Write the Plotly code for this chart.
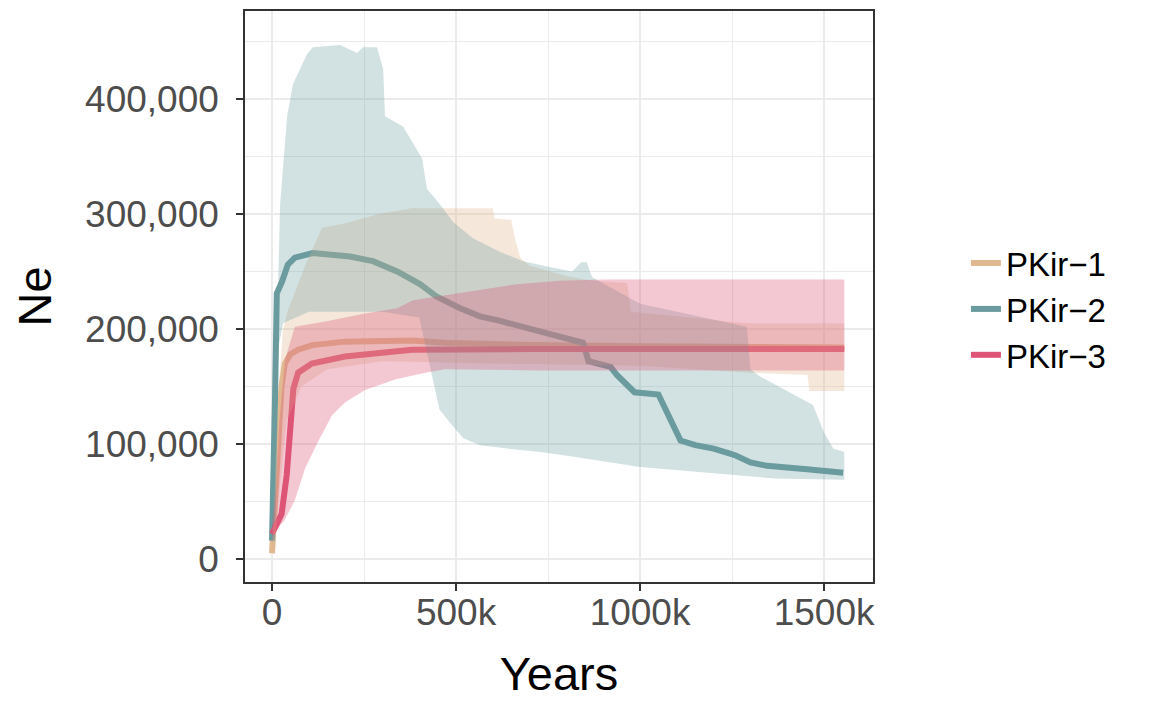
import plotly.graph_objects as go

# ---------------- data ----------------
series_names = ["PKir\u22121", "PKir\u22122", "PKir\u22123"]
series_colors = ["#E1B991", "#6A9B9E", "#DE5476"]
ribbon_colors = ["rgba(225,185,145,0.33)", "rgba(106,155,158,0.30)", "rgba(222,84,118,0.32)"]

# PKir-1 (median line)
years1 = [0, 5e3, 10e3, 18e3, 26e3, 35e3, 50e3, 71e3, 109e3, 198e3, 288e3, 380e3, 470e3, 700e3, 1000e3, 1555e3]
ne1 = [5e3, 30e3, 60e3, 110e3, 150e3, 170e3, 178e3, 182e3, 186e3, 189e3, 190e3, 190e3, 188e3, 186e3, 185e3, 184e3]
# PKir-1 ribbon
up1_years = [0, 5e3, 10e3, 18e3, 30e3, 43e3, 90e3, 136e3, 200e3, 290e3, 380e3, 600e3, 605e3, 650e3, 660e3, 675e3, 700e3, 800e3, 870e3, 965e3, 975e3, 1290e3, 1555e3]
up1 = [8e3, 40e3, 90e3, 150e3, 200e3, 216e3, 255e3, 288e3, 292e3, 300e3, 305e3, 305e3, 296e3, 295e3, 279e3, 262e3, 255e3, 246e3, 242e3, 240e3, 215e3, 205e3, 205e3]
lo1_years = [0, 10e3, 20e3, 40e3, 80e3, 150e3, 300e3, 600e3, 1000e3, 1300e3, 1455e3, 1460e3, 1555e3]
lo1 = [3e3, 20e3, 60e3, 120e3, 150e3, 165e3, 172e3, 170e3, 168e3, 162e3, 160e3, 146e3, 146e3]

# PKir-2 (median line)
years2 = [0, 4e3, 8e3, 13e3, 27e3, 43e3, 62e3, 111e3, 212e3, 274e3, 340e3, 402e3, 448e3, 511e3, 565e3, 620e3, 666e3, 728e3, 845e3, 860e3, 920e3, 937e3, 985e3, 1050e3, 1075e3, 1110e3, 1150e3, 1200e3, 1240e3, 1260e3, 1300e3, 1345e3, 1454e3, 1552e3]
ne2 = [16e3, 60e3, 137e3, 231e3, 241e3, 256e3, 262e3, 266e3, 263e3, 259e3, 250e3, 239e3, 228e3, 218e3, 211e3, 207e3, 203e3, 197e3, 188e3, 172e3, 167e3, 160e3, 145e3, 143e3, 125e3, 103e3, 99e3, 96e3, 92e3, 90e3, 84e3, 81e3, 78e3, 75e3]
# PKir-2 ribbon
up2_years = [0, 8e3, 15e3, 22e3, 41e3, 57e3, 95e3, 111e3, 185e3, 231e3, 247e3, 285e3, 302e3, 307e3, 356e3, 383e3, 408e3, 421e3, 457e3, 492e3, 546e3, 620e3, 682e3, 755e3, 815e3, 840e3, 855e3, 870e3, 1000e3, 1290e3, 1300e3, 1325e3, 1470e3, 1500e3, 1525e3, 1555e3]
up2 = [20e3, 120e3, 230e3, 308e3, 385e3, 413e3, 439e3, 445e3, 447e3, 440e3, 445e3, 445e3, 426e3, 385e3, 376e3, 362e3, 348e3, 322e3, 308e3, 293e3, 279e3, 267e3, 259e3, 254e3, 250e3, 258e3, 258e3, 245e3, 222e3, 202e3, 165e3, 159e3, 134e3, 110e3, 96e3, 93e3]
lo2_years = [0, 5e3, 10e3, 15e3, 30e3, 100e3, 300e3, 400e3, 420e3, 455e3, 490e3, 520e3, 565e3, 640e3, 730e3, 820e3, 1000e3, 1185e3, 1365e3, 1555e3]
lo2 = [10e3, 40e3, 120e3, 180e3, 205e3, 215e3, 215e3, 210e3, 180e3, 130e3, 116e3, 105e3, 99e3, 96e3, 93e3, 89e3, 80e3, 75e3, 70e3, 69e3]

# PKir-3 (median line)
years3 = [0, 26e3, 40e3, 49e3, 58e3, 71e3, 108e3, 198e3, 289e3, 380e3, 700e3, 1000e3, 1555e3]
ne3 = [22e3, 39e3, 73e3, 108e3, 148e3, 162e3, 170e3, 176e3, 179e3, 182e3, 182.5e3, 182.5e3, 182.5e3]
# PKir-3 ribbon
up3_years = [0, 10e3, 20e3, 35e3, 62e3, 152e3, 245e3, 340e3, 383e3, 546e3, 666e3, 780e3, 900e3, 1555e3]
up3 = [30e3, 60e3, 120e3, 173e3, 202e3, 207e3, 213e3, 218e3, 225e3, 233e3, 239e3, 242e3, 243e3, 243e3]
lo3_years = [0, 10e3, 33e3, 62e3, 90e3, 125e3, 163e3, 198e3, 253e3, 334e3, 416e3, 470e3, 728e3, 1000e3, 1555e3]
lo3 = [15e3, 25e3, 33e3, 51e3, 79e3, 102e3, 125e3, 136e3, 147e3, 156e3, 162e3, 165e3, 164e3, 164e3, 164e3]

x_tickvals = [0, 500000, 1000000, 1500000]
x_ticktext = ["0", "500k", "1000k", "1500k"]
x_minor = [250000, 750000, 1250000]
y_tickvals = [0, 100000, 200000, 300000, 400000]
y_ticktext = ["0", "100,000", "200,000", "300,000", "400,000"]
y_minor = [50000, 150000, 250000, 350000, 450000]

lines = [(years1, ne1), (years2, ne2), (years3, ne3)]
ribbons = [(up1_years, up1, lo1_years, lo1), (up2_years, up2, lo2_years, lo2), (up3_years, up3, lo3_years, lo3)]

FONT = "Liberation Sans, Arial, Helvetica, sans-serif"

fig = go.Figure()
for (xs, ys), name, col in zip(lines, series_names, series_colors):
    fig.add_trace(go.Scatter(x=xs, y=ys, mode="lines", name=name,
                             line=dict(color=col, width=6)))
for (ux, uy, lx, ly), col in zip(ribbons, ribbon_colors):
    fig.add_trace(go.Scatter(x=list(ux) + list(lx)[::-1], y=list(uy) + list(ly)[::-1],
                             mode="lines", fill="toself", fillcolor=col,
                             line=dict(width=0), showlegend=False, hoverinfo="skip"))

axis_common = dict(
    showgrid=True, gridcolor="#EBEBEB", gridwidth=2,
    ticks="outside", ticklen=7, tickwidth=2, tickcolor="#333333",
    showline=True, mirror=True, linecolor="#333333", linewidth=1.5,
    zeroline=False, automargin=False,
    tickfont=dict(family=FONT, size=37, color="#4D4D4D"),
)

fig.update_layout(
    width=1141, height=697,
    margin=dict(l=237, r=276, t=3, b=123, autoexpand=False),
    paper_bgcolor="white", plot_bgcolor="white",
    font=dict(family=FONT, color="black"),
    xaxis=dict(range=[-73400, 1633000], tickvals=x_tickvals, ticktext=x_ticktext,
               minor=dict(tickvals=x_minor, showgrid=True, gridcolor="#EBEBEB", gridwidth=1, ticks=""),
               title=dict(text="Years", font=dict(family=FONT, size=47, color="black"), standoff=25),
               ticklabelstandoff=-10,
               **axis_common),
    yaxis=dict(range=[-20000, 476500], tickvals=y_tickvals, ticktext=y_ticktext,
               minor=dict(tickvals=y_minor, showgrid=True, gridcolor="#EBEBEB", gridwidth=1, ticks=""),
               title=dict(text="Ne", font=dict(family=FONT, size=47, color="black"), standoff=25),
               ticklabelstandoff=10,
               **axis_common),
    legend=dict(x=1.148, y=0.478, xanchor="left", yanchor="middle",
                font=dict(family=FONT, size=33, color="black"),
                bgcolor="rgba(0,0,0,0)", borderwidth=0,
                tracegroupgap=0),
    showlegend=True,
)

fig.write_html("out.html")
